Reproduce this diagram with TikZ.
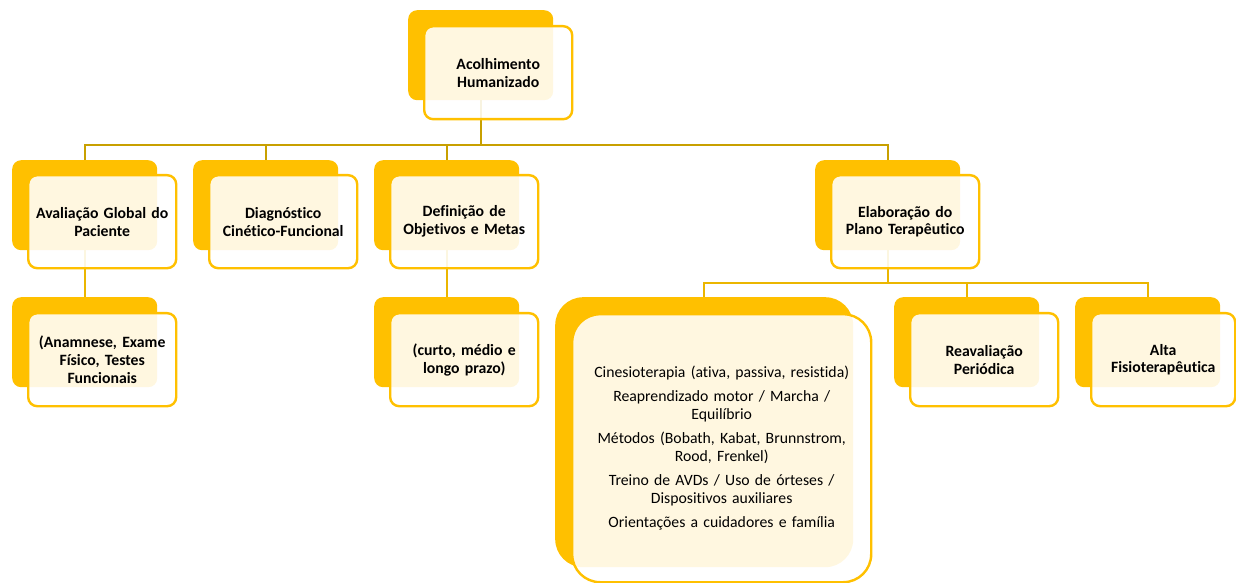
\documentclass[tikz,border=0pt]{standalone}
\usepackage{fontspec}
\setmainfont{Carlito}[Ligatures={NoCommon}]
\definecolor{gold}{RGB}{255,192,0}
\definecolor{lineA}{RGB}{200,160,0}
\definecolor{lineB}{RGB}{235,182,0}
\tikzset{
  backbox/.style={rectangle, rounded corners=9bp, fill=gold, minimum width=145bp, minimum height=90bp, anchor=north west, inner sep=0pt},
  frontbox/.style={rectangle, rounded corners=9bp, draw=gold, line width=2.4bp, fill=white, fill opacity=0.88, text opacity=1, minimum width=148bp, minimum height=93bp, anchor=north west, inner sep=0pt, text width=144bp, align=center, font=\fontsize{15.8}{18}\selectfont\bfseries},
  connA/.style={draw=lineA, line width=2bp},
  connB/.style={draw=lineB, line width=2bp},
}
\begin{document}
\begin{tikzpicture}[x=1bp,y=-1bp]
\useasboundingbox (0,0) rectangle (1236,583);
% back boxes
\node[backbox] (b0) at (408,10) {};
\node[backbox] (b1) at (12,160) {};
\node[backbox] (b2) at (193,160) {};
\node[backbox] (b3) at (374,160) {};
\node[backbox] (b4) at (815,160) {};
\node[backbox] (b5) at (12,297) {};
\node[backbox] (b6) at (374,297) {};
\node[backbox, minimum width=298bp, minimum height=270bp, rounded corners=28bp] (b7) at (555,297) {};
\node[backbox] (b8) at (894,297) {};
\node[backbox] (b9) at (1075,297) {};
% connectors
\draw[connA] (b0.south) -- ++(0,45);
\draw[connA] (b1.north) -- ++(0,-15) -| (b4.north);
\draw[connA] (b2.north) -- ++(0,-15);
\draw[connA] (b3.north) -- ++(0,-15);
\draw[connB] (b1.south) -- (b5.north);
\draw[connB] (b3.south) -- (b6.north);
\draw[connB] (b4.south) -- ++(0,33) coordinate (j4);
\draw[connB] (b7.north) -- ++(0,-14) -| (b9.north);
\draw[connB] (b8.north) -- ++(0,-14);
% front boxes
\node[frontbox] (f0) at (423,25) {Acolhimento\\Humanizado};
\node[frontbox] (f1) at (27,174) {Avaliação Global do\\Paciente};
\node[frontbox] (f2) at (208,174) {Diagnóstico\\Cinético-Funcional};
\node[frontbox] (f3) at (389,174) {Definição de\\Objetivos e Metas};
\node[frontbox] (f4) at (830,174) {Elaboração do\\Plano Terapêutico};
\node[frontbox] (f5) at (27,312) {(Anamnese, Exame\\Físico, Testes\\Funcionais};
\node[frontbox] (f6) at (389,312) {(curto, médio e\\longo prazo)};
\node[frontbox, minimum width=299bp, minimum height=268bp, rounded corners=28bp, text width=290bp, font=\fontsize{15.8}{18}\selectfont] (f7) at (571,313) {Cinesioterapia (ativa, passiva, resistida)\\[6bp]Reaprendizado motor / Marcha /\\Equilíbrio\\[6bp]Métodos (Bobath, Kabat, Brunnstrom,\\Rood, Frenkel)\\[6bp]Treino de AVDs / Uso de órteses /\\Dispositivos auxiliares\\[6bp]Orientações a cuidadores e família};
\node[frontbox] (f8) at (909,312) {Reavaliação\\Periódica};
\node[frontbox, minimum width=144bp] (f9) at (1090,312) {Alta\\Fisioterapêutica};
\end{tikzpicture}
\end{document}
